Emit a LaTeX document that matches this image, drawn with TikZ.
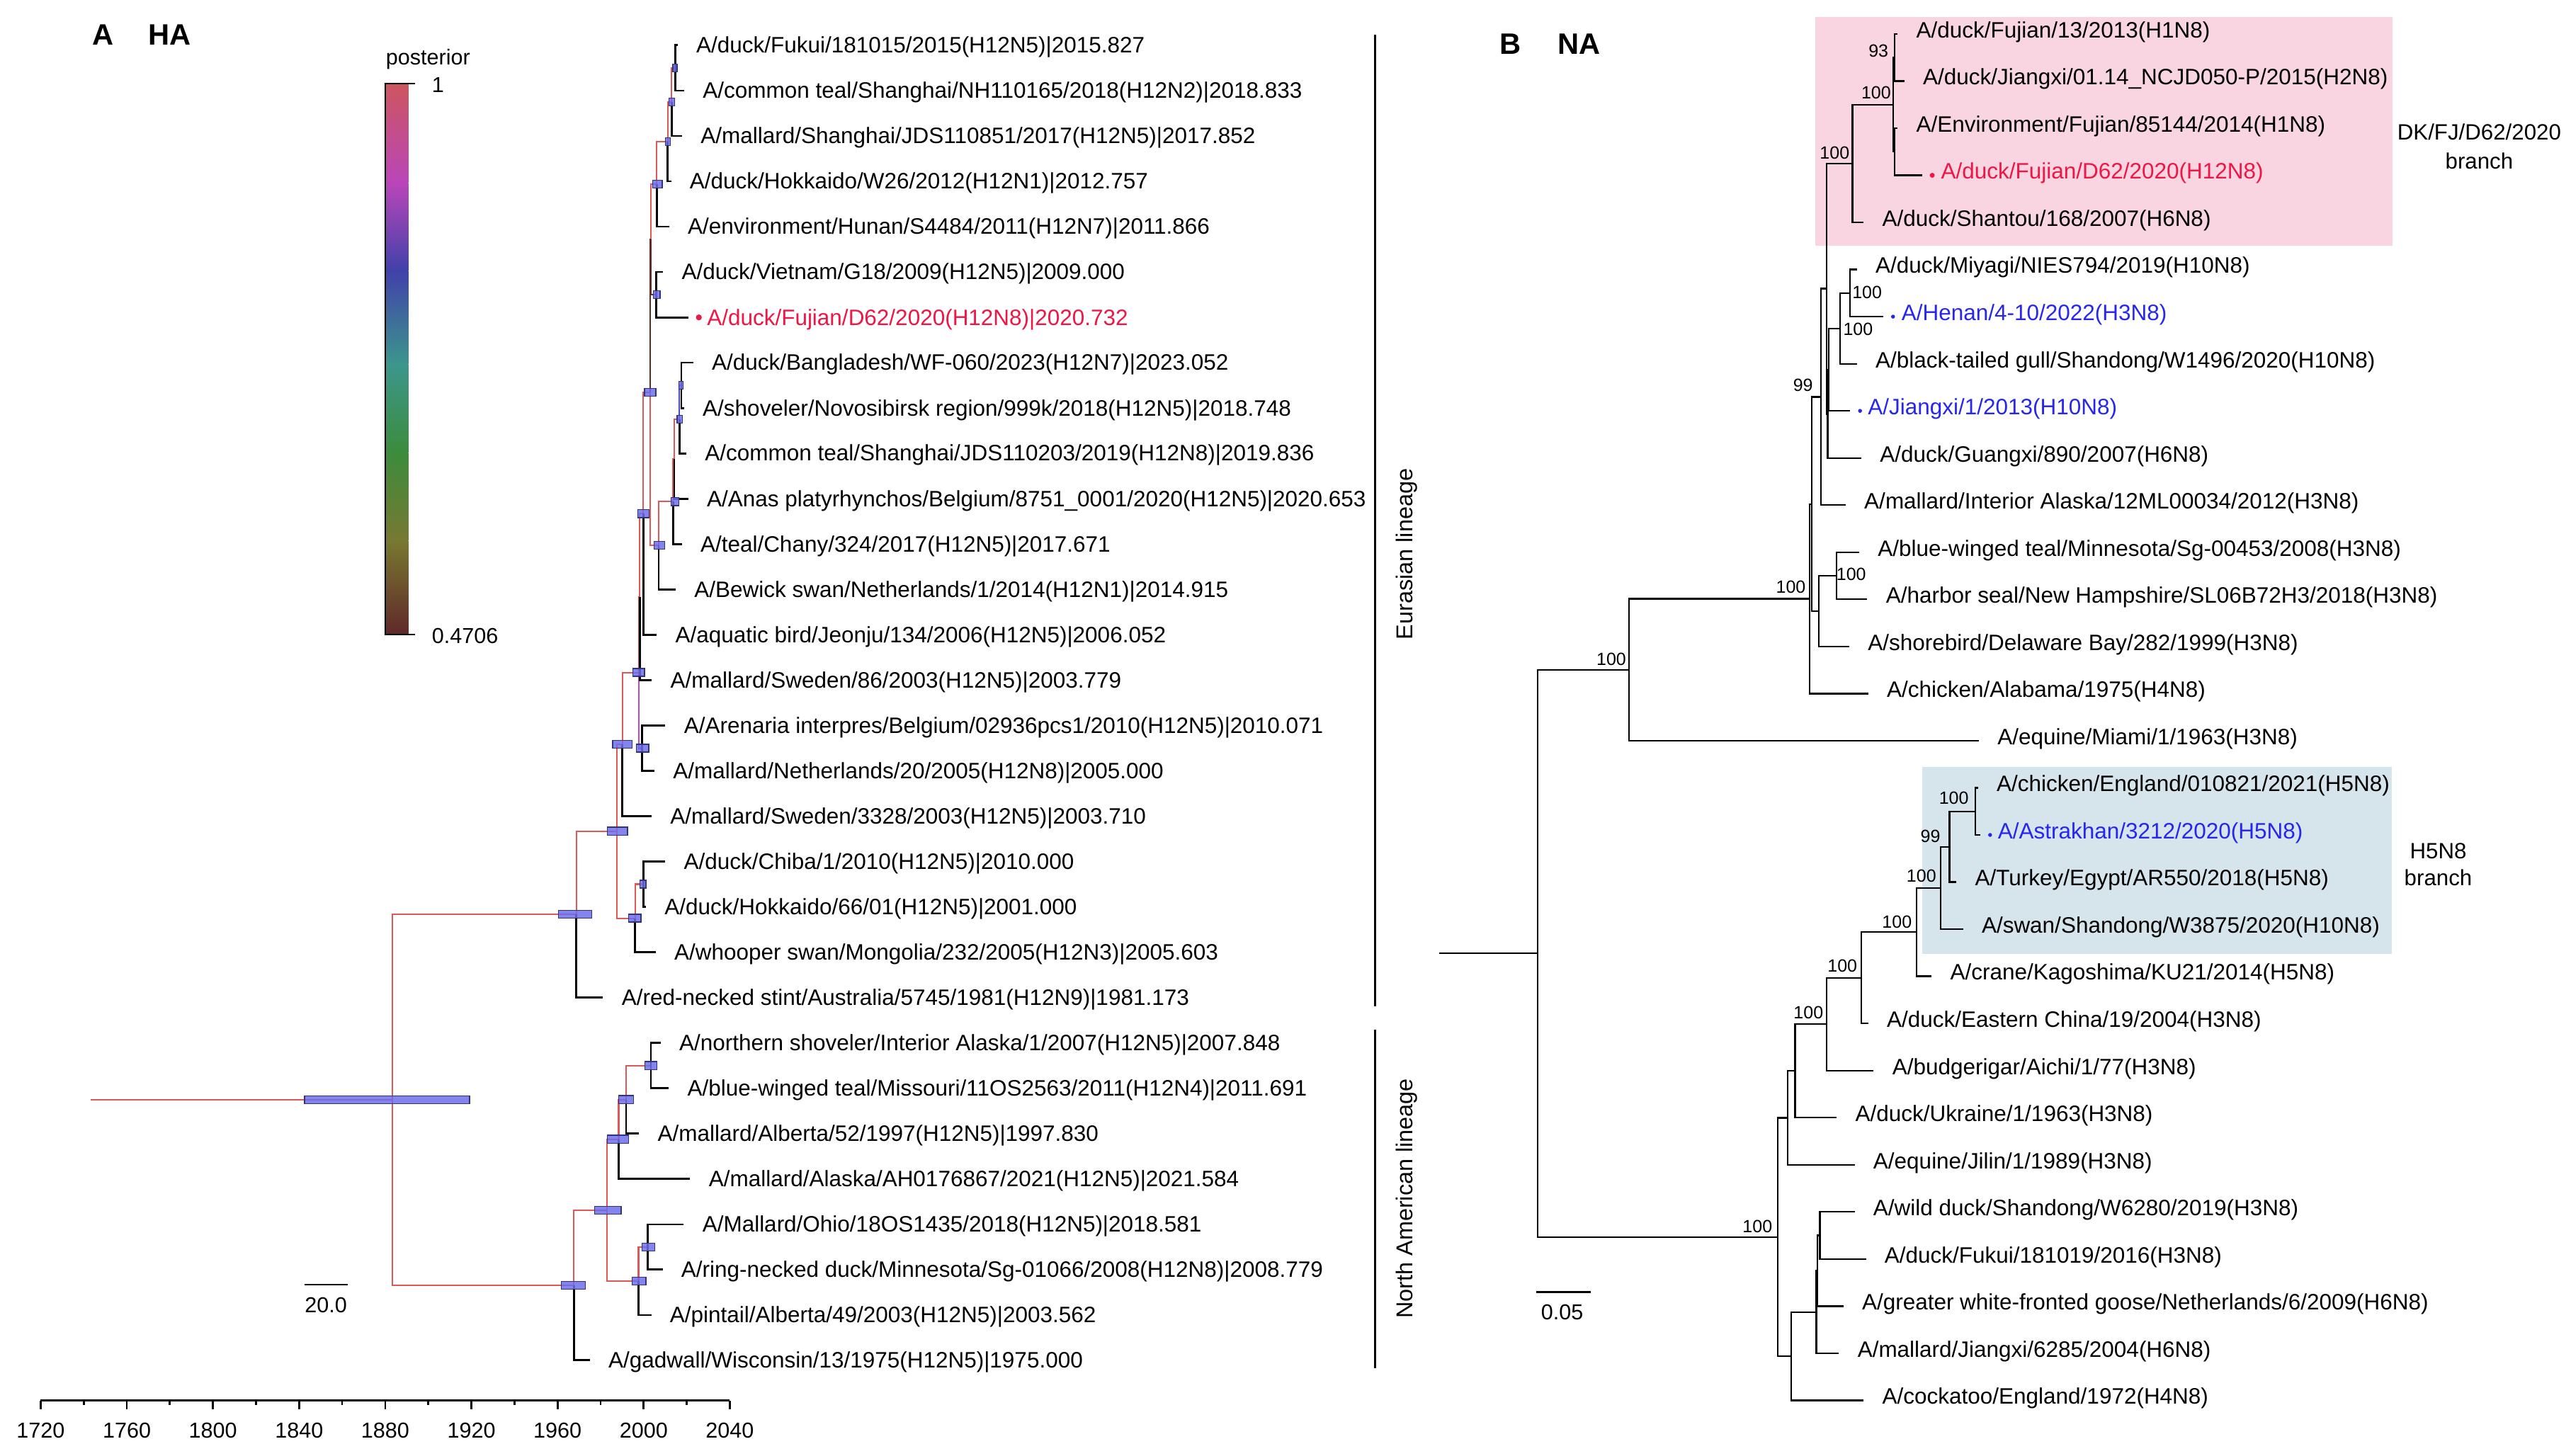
\documentclass[tikz,border=0pt]{standalone}
\usepackage{fontspec}
\setmainfont{Liberation Sans}
\definecolor{bred}{RGB}{222,88,88}
\definecolor{bbrown}{RGB}{95,45,40}
\definecolor{bmag}{RGB}{190,75,190}
\definecolor{bblue}{RGB}{70,70,200}
\definecolor{hpdfill}{RGB}{110,110,235}
\definecolor{hpdline}{RGB}{50,50,120}
\definecolor{lred}{RGB}{238,22,68}
\definecolor{lblue}{RGB}{38,38,238}
\definecolor{pinkbox}{RGB}{249,213,225}
\definecolor{bluebox}{RGB}{214,228,236}
\definecolor{cb0}{RGB}{205,85,95}
\definecolor{cb1}{RGB}{185,70,185}
\definecolor{cb2}{RGB}{65,65,170}
\definecolor{cb3}{RGB}{60,150,140}
\definecolor{cb4}{RGB}{60,140,60}
\definecolor{cb5}{RGB}{120,120,50}
\definecolor{cb6}{RGB}{95,40,40}
\newcommand{\labfont}{\fontsize{6.8}{8}\selectfont}
\newcommand{\smallfont}{\fontsize{6.6}{8}\selectfont}
\newcommand{\bootfont}{\fontsize{5.4}{6}\selectfont}
\begin{document}
\begin{tikzpicture}[x=0.5pt,y=-0.5pt,
  br/.style={line width=0.45pt,bred},
  brbrown/.style={line width=0.45pt,bbrown},
  brmag/.style={line width=0.45pt,bmag},
  brblue/.style={line width=0.45pt,bblue},
  tipbr/.style={line width=0.6pt,black},
  nbr/.style={line width=0.5pt,black},
  hpd/.style={fill=hpdfill,fill opacity=0.85,draw=hpdline,line width=0.3pt},
  lab/.style={anchor=west,inner sep=0pt,font=\labfont},
  laba/.style={lab,yshift=-0.6pt},
  labb/.style={lab,yshift=0.6pt},
  boot/.style={inner sep=0pt,font=\bootfont},
  small/.style={inner sep=0pt,font=\smallfont},
  ttl/.style={inner sep=0pt,font=\bfseries\fontsize{9}{10}\selectfont},
  dotn/.style={circle,inner sep=0pt,minimum size=1.2pt}]
\useasboundingbox (0,0) rectangle (1568,887.7);

% ================= PANEL A =================
\node[ttl] (tA) at (62.7,21.4) {A};
\node[ttl] (tHA) at (103.3,21.4) {HA};

% colour bar
\shade[top color=cb0,bottom color=cb1] (235,51) rectangle (249,111.5);
\shade[top color=cb1,bottom color=cb2] (235,111.5) rectangle (249,165.2);
\shade[top color=cb2,bottom color=cb3] (235,165.2) rectangle (249,222.4);
\shade[top color=cb3,bottom color=cb4] (235,222.4) rectangle (249,276.1);
\shade[top color=cb4,bottom color=cb5] (235,276.1) rectangle (249,329.9);
\shade[top color=cb5,bottom color=cb6] (235,329.9) rectangle (249,387);
\draw[line width=0.6pt] (253,51) -- (235,51) -- (235,387) -- (253,387);
\node[small,anchor=west] (cbT) at (235,36) {posterior};
\node[small,anchor=west] (cb1l) at (263,52) {1};
\node[small,anchor=west] (cb0l) at (263,388) {0.4706};

% coordinates
\coordinate (aRs) at (55.4,670.8);
\coordinate (aR) at (239.4,670.8);
\coordinate (aE1) at (351.5,557.75);
\coordinate (aE2) at (376.2,507.0);
\coordinate (aE3) at (379.6,454.0);
\coordinate (aP) at (389.5,410.2);
\coordinate (aM) at (390.2,364.05);
\coordinate (aY) at (392.4,313.3);
\coordinate (aX) at (396.5,239.35);
\coordinate (aU) at (396.9,146.0);
\coordinate (aN1) at (400.6,112.3);
\coordinate (aN2) at (407.2,86.4);
\coordinate (aN3) at (409.6,62.2);
\coordinate (aN4) at (411.8,41.45);
\coordinate (aV) at (400.3,179.75);
\coordinate (aB) at (401.7,332.7);
\coordinate (aZ) at (410.5,305.95);
\coordinate (aQ) at (411.2,280.0);
\coordinate (aW) at (414.3,255.8);
\coordinate (aK) at (415.5,235.05);
\coordinate (aA) at (391.7,456.35);
\coordinate (aS) at (387.4,560.05);
\coordinate (aS2) at (392.4,539.3);
\coordinate (aF1) at (350.0,783.9);
\coordinate (aF2) at (370.3,738.1);
\coordinate (aF3) at (377.3,694.9);
\coordinate (aF5) at (381.8,670.7);
\coordinate (aF6) at (397.0,649.95);
\coordinate (aF4) at (389.4,781.35);
\coordinate (aF7) at (394.9,760.6);
% tips
\coordinate (at1) at (413.3,27.6);
\coordinate (at2) at (417.3,55.3);
\coordinate (at3) at (416.0,82.9);
\coordinate (at4) at (409.3,110.6);
\coordinate (at5) at (408.1,138.2);
\coordinate (at6) at (404.4,165.9);
\coordinate (at7) at (419.8,193.6);
\coordinate (at8) at (422.8,221.2);
\coordinate (at9) at (417.2,248.9);
\coordinate (at10) at (418.6,276.5);
\coordinate (at11) at (419.7,304.2);
\coordinate (at12) at (415.8,331.9);
\coordinate (at13) at (412.1,359.5);
\coordinate (at14) at (400.5,387.2);
\coordinate (at15) at (397.5,414.8);
\coordinate (at16) at (405.8,442.5);
\coordinate (at17) at (399.1,470.2);
\coordinate (at18) at (397.4,497.8);
\coordinate (at19) at (405.7,525.5);
\coordinate (at20) at (393.9,553.1);
\coordinate (at21) at (399.9,580.8);
\coordinate (at22) at (367.8,608.5);
\coordinate (at23) at (402.9,636.1);
\coordinate (at24) at (407.9,663.8);
\coordinate (at25) at (389.7,691.4);
\coordinate (at26) at (420.9,719.1);
\coordinate (at27) at (417.0,746.8);
\coordinate (at28) at (404.1,774.4);
\coordinate (at29) at (397.2,802.1);
\coordinate (at30) at (359.7,829.7);

% branches
\draw[br] (aRs) -- (aR);
\foreach \p/\c in {aR/aE1,aR/aF1,aE1/aE2,aE2/aE3,aE2/aS,aE3/aP,aP/aM,aM/aY,aY/aX,aX/aB,
  aU/aN1,aN1/aN2,aN2/aN3,aN3/aN4,aB/aZ,aZ/aQ,aQ/aW,aS/aS2,aF1/aF2,aF2/aF3,aF2/aF4,
  aF3/aF5,aF5/aF6,aF4/aF7}
  \draw[br] (\p) |- (\c);
\draw[brbrown] (aX) |- (aU);
\draw[brbrown] (aU) |- (aV);
\draw[brmag] (aP) |- (aA);
\draw[brblue] (aW) |- (aK);
\foreach \p/\c in {aN4/at1,aN4/at2,aN3/at3,aN2/at4,aN1/at5,aV/at6,aV/at7,aK/at8,aK/at9,
  aW/at10,aQ/at11,aZ/at12,aB/at13,aY/at14,aM/at15,aA/at16,aA/at17,aE3/at18,aS2/at19,
  aS2/at20,aS/at21,aE1/at22,aF6/at23,aF6/at24,aF5/at25,aF3/at26,aF7/at27,aF7/at28,
  aF4/at29,aF1/at30}
  \draw[tipbr] (\p) |- (\c);

% HPD bars
\foreach \l/\r/\yy in {185.8/286.4/670.8,340.7/361/557.75,342.4/357/783.9,370.3/382.7/507,
  373.6/385.5/454,383.3/390.9/560.05,390.3/394/539.3,385.9/393.1/410.2,388/395.6/456.35,
  389.1/396/313.3,393.1/400/239.35,398.1/403.9/112.3,405.8/408.9/86.4,407.9/411.5/62.2,
  410.4/413/41.45,398.6/402.5/179.75,398.9/405.3/332.7,409.2/414/305.95,412.9/416.1/255.8,
  413.9/416.7/235.05,362.7/378.8/738.1,370.3/383.3/694.9,377.3/386.4/670.7,
  393.3/400.6/649.95,385.5/393.9/781.35,391.5/399.4/760.6}
  \draw[hpd] (\l,\yy-2.4) rectangle (\r,\yy+2.4);

% labels A
\node[laba] (la1) at ([xshift=5.5pt]at1) {A/duck/Fukui/181015/2015(H12N5)|2015.827};
\node[laba] (la2) at ([xshift=5.5pt]at2) {A/common teal/Shanghai/NH110165/2018(H12N2)|2018.833};
\node[laba] (la3) at ([xshift=5.5pt]at3) {A/mallard/Shanghai/JDS110851/2017(H12N5)|2017.852};
\node[laba] (la4) at ([xshift=5.5pt]at4) {A/duck/Hokkaido/W26/2012(H12N1)|2012.757};
\node[laba] (la5) at ([xshift=5.5pt]at5) {A/environment/Hunan/S4484/2011(H12N7)|2011.866};
\node[laba] (la6) at ([xshift=5.5pt]at6) {A/duck/Vietnam/G18/2009(H12N5)|2009.000};
\node[dotn,minimum size=1.8pt,fill=lred] (da7) at ([xshift=3.2pt]at7) {};
\node[laba,text=lred] (la7) at ([xshift=5.5pt]at7) {A/duck/Fujian/D62/2020(H12N8)|2020.732};
\node[laba] (la8) at ([xshift=5.5pt]at8) {A/duck/Bangladesh/WF-060/2023(H12N7)|2023.052};
\node[laba] (la9) at ([xshift=5.5pt]at9) {A/shoveler/Novosibirsk region/999k/2018(H12N5)|2018.748};
\node[laba] (la10) at ([xshift=5.5pt]at10) {A/common teal/Shanghai/JDS110203/2019(H12N8)|2019.836};
\node[laba] (la11) at ([xshift=5.5pt]at11) {A/Anas platyrhynchos/Belgium/8751\_0001/2020(H12N5)|2020.653};
\node[laba] (la12) at ([xshift=5.5pt]at12) {A/teal/Chany/324/2017(H12N5)|2017.671};
\node[laba] (la13) at ([xshift=5.5pt]at13) {A/Bewick swan/Netherlands/1/2014(H12N1)|2014.915};
\node[laba] (la14) at ([xshift=5.5pt]at14) {A/aquatic bird/Jeonju/134/2006(H12N5)|2006.052};
\node[laba] (la15) at ([xshift=5.5pt]at15) {A/mallard/Sweden/86/2003(H12N5)|2003.779};
\node[laba] (la16) at ([xshift=5.5pt]at16) {A/Arenaria interpres/Belgium/02936pcs1/2010(H12N5)|2010.071};
\node[laba] (la17) at ([xshift=5.5pt]at17) {A/mallard/Netherlands/20/2005(H12N8)|2005.000};
\node[laba] (la18) at ([xshift=5.5pt]at18) {A/mallard/Sweden/3328/2003(H12N5)|2003.710};
\node[laba] (la19) at ([xshift=5.5pt]at19) {A/duck/Chiba/1/2010(H12N5)|2010.000};
\node[laba] (la20) at ([xshift=5.5pt]at20) {A/duck/Hokkaido/66/01(H12N5)|2001.000};
\node[laba] (la21) at ([xshift=5.5pt]at21) {A/whooper swan/Mongolia/232/2005(H12N3)|2005.603};
\node[laba] (la22) at ([xshift=5.5pt]at22) {A/red-necked stint/Australia/5745/1981(H12N9)|1981.173};
\node[laba] (la23) at ([xshift=5.5pt]at23) {A/northern shoveler/Interior Alaska/1/2007(H12N5)|2007.848};
\node[laba] (la24) at ([xshift=5.5pt]at24) {A/blue-winged teal/Missouri/11OS2563/2011(H12N4)|2011.691};
\node[laba] (la25) at ([xshift=5.5pt]at25) {A/mallard/Alberta/52/1997(H12N5)|1997.830};
\node[laba] (la26) at ([xshift=5.5pt]at26) {A/mallard/Alaska/AH0176867/2021(H12N5)|2021.584};
\node[laba] (la27) at ([xshift=5.5pt]at27) {A/Mallard/Ohio/18OS1435/2018(H12N5)|2018.581};
\node[laba] (la28) at ([xshift=5.5pt]at28) {A/ring-necked duck/Minnesota/Sg-01066/2008(H12N8)|2008.779};
\node[laba] (la29) at ([xshift=5.5pt]at29) {A/pintail/Alberta/49/2003(H12N5)|2003.562};
\node[laba] (la30) at ([xshift=5.5pt]at30) {A/gadwall/Wisconsin/13/1975(H12N5)|1975.000};

% lineage brackets
\coordinate (eu1) at (838.7,21); \coordinate (eu2) at (838.7,614);
\coordinate (na1) at (838.7,628); \coordinate (na2) at (838.7,834.6);
\draw[line width=0.7pt] (eu1) -- (eu2);
\draw[line width=0.7pt] (na1) -- (na2);
\node[inner sep=0pt,rotate=90,font=\fontsize{7}{8}\selectfont] (euT) at (858,338) {Eurasian lineage};
\node[inner sep=0pt,rotate=90,font=\fontsize{7}{8}\selectfont] (naT) at (858,731) {North American lineage};

% scale bar A
\coordinate (sa1) at (185.8,783.6); \coordinate (sa2) at (212.1,783.6);
\draw[line width=0.6pt] (sa1) -- (sa2);
\node[small] (saT) at (198.8,795.9) {20.0};

% time axis
\coordinate (ax1) at (24.8,854.3); \coordinate (ax2) at (445,854.3);
\draw[line width=0.6pt] (ax1) -- (ax2);
\foreach \yr in {1720,1760,...,2040} {
  \draw[line width=0.6pt] ({24.8+(\yr-1720)*1.3134},854.3) -- ++(0,5.5);
  \node[small] (yl\yr) at ({24.8+(\yr-1720)*1.3134},872.4) {\yr};
}
\foreach \yr in {1740,1780,...,2020}
  \draw[line width=0.6pt] ({24.8+(\yr-1720)*1.3134},854.3) -- ++(0,2.8);

% ================= PANEL B =================
\node[ttl] (tB) at (921.1,26.9) {B};
\node[ttl] (tNA) at (963,26.9) {NA};

\fill[pinkbox] (1107.2,10.5) rectangle (1459.2,150.1);
\fill[bluebox] (1172.4,467.7) rectangle (1458.8,581.7);
\node[inner sep=0pt,align=center,font=\fontsize{6.75}{8.85}\selectfont] (dkT) at (1512,89.5) {DK/FJ/D62/2020\\branch};
\node[inner sep=0pt,align=center,font=\fontsize{6.75}{8.2}\selectfont] (h5T) at (1487,527.4) {H5N8\\branch};

\coordinate (bRs) at (877.7,581.5);
\coordinate (bR) at (937.7,581.5);
\coordinate (bB1) at (993.4,408.5);
\coordinate (bB3) at (1103.6,365.25);
\coordinate (bB6p) at (1104.9,307.43);
\coordinate (bB5) at (1110.5,242.09);
\coordinate (bB7) at (1114.0,176.08);
\coordinate (bP1) at (1129.7,99.74);
\coordinate (bP2) at (1154.6,63.81);
\coordinate (bP3) at (1155.4,35.07);
\coordinate (bP4) at (1155.6,92.55);
\coordinate (bH4) at (1114.6,252.42);
\coordinate (bH3) at (1115.4,225.47);
\coordinate (bH2) at (1122.3,200.33);
\coordinate (bH1) at (1128.4,178.77);
\coordinate (bB6) at (1109.1,372.77);
\coordinate (bB8) at (1120.1,351.21);
\coordinate (bB2) at (1084.3,754.5);
\coordinate (bC1) at (1090.3,681.83);
\coordinate (bC3) at (1094.8,653.2);
\coordinate (bC4) at (1114.0,624.69);
\coordinate (bC5) at (1135.2,596.4);
\coordinate (bC6) at (1168.9,568.55);
\coordinate (bC7) at (1183.5,541.6);
\coordinate (bC8) at (1189.0,516.47);
\coordinate (bC9) at (1204.7,494.91);
\coordinate (bC2) at (1092.5,827.2);
\coordinate (bC10) at (1107.7,800.27);
\coordinate (bC12) at (1108.5,775.13);
\coordinate (bC11) at (1109.9,753.57);
% tips B
\coordinate (bt1) at (1157.3,20.7);
\coordinate (bt2) at (1161.4,49.44);
\coordinate (bt3) at (1157.3,78.18);
\coordinate (bt4) at (1172.4,106.92);
\coordinate (bt5) at (1136.6,135.66);
\coordinate (bt6) at (1132.5,164.4);
\coordinate (bt7) at (1148.5,193.14);
\coordinate (bt8) at (1132.5,221.88);
\coordinate (bt9) at (1128.4,250.62);
\coordinate (bt10) at (1135.2,279.36);
\coordinate (bt11) at (1125.6,308.1);
\coordinate (bt12) at (1133.9,336.84);
\coordinate (bt13) at (1138.8,365.58);
\coordinate (bt14) at (1127.8,394.32);
\coordinate (bt15) at (1139.4,423.06);
\coordinate (bt16) at (1206.9,451.8);
\coordinate (bt17) at (1206.3,480.54);
\coordinate (bt18) at (1207.7,509.28);
\coordinate (bt19) at (1193.1,538.02);
\coordinate (bt20) at (1197.2,566.76);
\coordinate (bt21) at (1178.0,595.5);
\coordinate (bt22) at (1139.4,624.24);
\coordinate (bt23) at (1142.7,652.98);
\coordinate (bt24) at (1120.1,681.72);
\coordinate (bt25) at (1131.1,710.46);
\coordinate (bt26) at (1131.1,739.2);
\coordinate (bt27) at (1138.0,767.94);
\coordinate (bt28) at (1124.2,796.68);
\coordinate (bt29) at (1121.5,825.42);
\coordinate (bt30) at (1136.6,854.16);

\draw[nbr] (bRs) -- (bR);
\foreach \p/\c in {bR/bB1,bR/bB2,bB1/bB3,bB1/bt16,bB3/bB6p,bB3/bt15,bB6p/bB5,bB6p/bB6,
  bB5/bB7,bB5/bt11,bB7/bP1,bB7/bH4,bP1/bP2,bP1/bt5,bP2/bP3,bP2/bP4,bP3/bt1,bP3/bt2,
  bP4/bt3,bP4/bt4,bH4/bH3,bH4/bt10,bH3/bH2,bH3/bt9,bH2/bH1,bH2/bt8,bH1/bt6,bH1/bt7,
  bB6/bB8,bB6/bt14,bB8/bt12,bB8/bt13,bB2/bC1,bB2/bC2,bC1/bC3,bC1/bt25,bC3/bC4,bC3/bt24,
  bC4/bC5,bC4/bt23,bC5/bC6,bC5/bt22,bC6/bC7,bC6/bt21,bC7/bC8,bC7/bt20,bC8/bC9,bC8/bt19,
  bC9/bt17,bC9/bt18,bC2/bC10,bC2/bt30,bC10/bC12,bC10/bt29,bC12/bC11,bC12/bt28,
  bC11/bt26,bC11/bt27}
  \draw[nbr] (\p) |- (\c);

% labels B
\node[labb] (lb1) at ([xshift=5.5pt]bt1) {A/duck/Fujian/13/2013(H1N8)};
\node[labb] (lb2) at ([xshift=5.5pt]bt2) {A/duck/Jiangxi/01.14\_NCJD050-P/2015(H2N8)};
\node[labb] (lb3) at ([xshift=5.5pt]bt3) {A/Environment/Fujian/85144/2014(H1N8)};
\node[dotn,minimum size=1.5pt,fill=lred] (db4) at ([xshift=3pt]bt4) {};
\node[labb,text=lred] (lb4) at ([xshift=5.5pt]bt4) {A/duck/Fujian/D62/2020(H12N8)};
\node[labb] (lb5) at ([xshift=5.5pt]bt5) {A/duck/Shantou/168/2007(H6N8)};
\node[labb] (lb6) at ([xshift=5.5pt]bt6) {A/duck/Miyagi/NIES794/2019(H10N8)};
\node[dotn,fill=lblue] (db7) at ([xshift=3pt]bt7) {};
\node[labb,text=lblue] (lb7) at ([xshift=5.4pt]bt7) {A/Henan/4-10/2022(H3N8)};
\node[labb] (lb8) at ([xshift=5.5pt]bt8) {A/black-tailed gull/Shandong/W1496/2020(H10N8)};
\node[dotn,fill=lblue] (db9) at ([xshift=3pt]bt9) {};
\node[labb,text=lblue] (lb9) at ([xshift=5.2pt]bt9) {A/Jiangxi/1/2013(H10N8)};
\node[labb] (lb10) at ([xshift=5.5pt]bt10) {A/duck/Guangxi/890/2007(H6N8)};
\node[labb] (lb11) at ([xshift=5.5pt]bt11) {A/mallard/Interior Alaska/12ML00034/2012(H3N8)};
\node[labb] (lb12) at ([xshift=5.5pt]bt12) {A/blue-winged teal/Minnesota/Sg-00453/2008(H3N8)};
\node[labb] (lb13) at ([xshift=5.5pt]bt13) {A/harbor seal/New Hampshire/SL06B72H3/2018(H3N8)};
\node[labb] (lb14) at ([xshift=5.5pt]bt14) {A/shorebird/Delaware Bay/282/1999(H3N8)};
\node[labb] (lb15) at ([xshift=5.5pt]bt15) {A/chicken/Alabama/1975(H4N8)};
\node[labb] (lb16) at ([xshift=5.5pt]bt16) {A/equine/Miami/1/1963(H3N8)};
\node[labb] (lb17) at ([xshift=5.5pt]bt17) {A/chicken/England/010821/2021(H5N8)};
\node[dotn,fill=lblue] (db18) at ([xshift=3pt]bt18) {};
\node[labb,text=lblue] (lb18) at ([xshift=5.2pt]bt18) {A/Astrakhan/3212/2020(H5N8)};
\node[labb] (lb19) at ([xshift=5.5pt]bt19) {A/Turkey/Egypt/AR550/2018(H5N8)};
\node[labb] (lb20) at ([xshift=5.5pt]bt20) {A/swan/Shandong/W3875/2020(H10N8)};
\node[labb] (lb21) at ([xshift=5.5pt]bt21) {A/crane/Kagoshima/KU21/2014(H5N8)};
\node[labb] (lb22) at ([xshift=5.5pt]bt22) {A/duck/Eastern China/19/2004(H3N8)};
\node[labb] (lb23) at ([xshift=5.5pt]bt23) {A/budgerigar/Aichi/1/77(H3N8)};
\node[labb] (lb24) at ([xshift=5.5pt]bt24) {A/duck/Ukraine/1/1963(H3N8)};
\node[labb] (lb25) at ([xshift=5.5pt]bt25) {A/equine/Jilin/1/1989(H3N8)};
\node[labb] (lb26) at ([xshift=5.5pt]bt26) {A/wild duck/Shandong/W6280/2019(H3N8)};
\node[labb] (lb27) at ([xshift=5.5pt]bt27) {A/duck/Fukui/181019/2016(H3N8)};
\node[labb] (lb28) at ([xshift=5.5pt]bt28) {A/greater white-fronted goose/Netherlands/6/2009(H6N8)};
\node[labb] (lb29) at ([xshift=5.5pt]bt29) {A/mallard/Jiangxi/6285/2004(H6N8)};
\node[labb] (lb30) at ([xshift=5.5pt]bt30) {A/cockatoo/England/1972(H4N8)};

% bootstrap values
\node[boot] (bs1) at (1145.6,31.1) {93};
\node[boot] (bs2) at (1144.2,56.5) {100};
\node[boot] (bs3) at (1118.9,93.1) {100};
\node[boot] (bs4) at (1138.7,178.5) {100};
\node[boot] (bs5) at (1133.2,201) {100};
\node[boot] (bs6) at (1099.6,235) {99};
\node[boot] (bs7) at (1129,350.4) {100};
\node[boot] (bs8) at (1092.2,358) {100};
\node[boot] (bs9) at (982.7,402) {100};
\node[boot] (bs10) at (1071.8,748) {100};
\node[boot] (bs11) at (1102.9,617.5) {100};
\node[boot] (bs12) at (1123.6,589) {100};
\node[boot] (bs13) at (1156.9,562.2) {100};
\node[boot] (bs14) at (1171.8,534.3) {100};
\node[boot] (bs15) at (1177.3,509.9) {99};
\node[boot] (bs16) at (1191.6,486.7) {100};

% scale bar B
\coordinate (sb1) at (936.9,788.1); \coordinate (sb2) at (970,788.1);
\draw[line width=0.6pt] (sb1) -- (sb2);
\node[small] (sbT) at (952.7,800.6) {0.05};
\end{tikzpicture}
\end{document}
